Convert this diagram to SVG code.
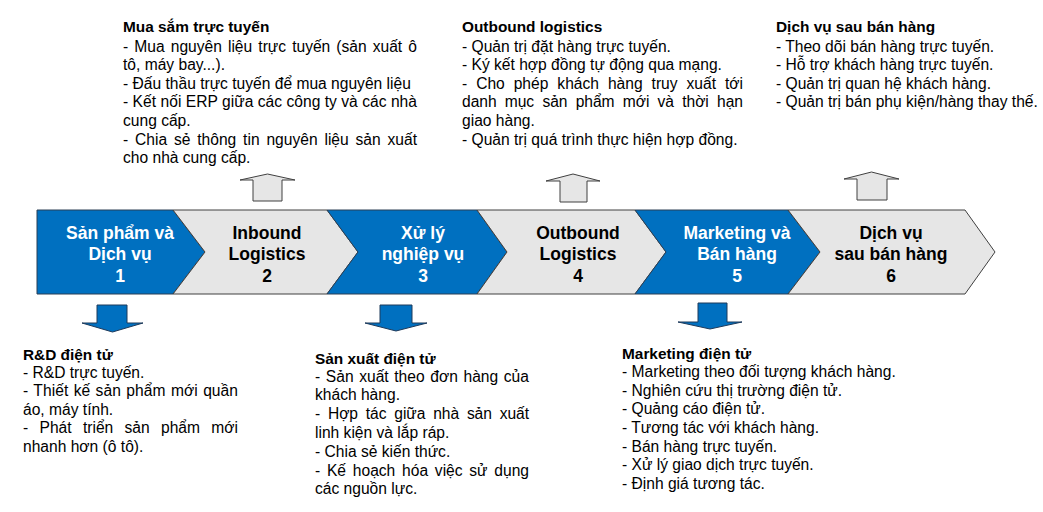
<svg xmlns="http://www.w3.org/2000/svg" width="1043" height="512" viewBox="0 0 1043 512">
  <style>
    text { font-family: "Liberation Sans", Arial, sans-serif; }
    .t { font-size: 15.6px; fill: #000; }
    .h { font-size: 15.4px; font-weight: bold; fill: #000; }
    .cl { font-size: 17.5px; font-weight: bold; text-anchor: middle; }
    .cw { fill: #ffffff; }
    .ck { fill: #000000; }
    .blue { fill: #0070C0; stroke: #2b3f55; stroke-width: 1; }
    .gray { fill: #E6E6E6; stroke: #404040; stroke-width: 1; }
    .up { fill: #E6E6E6; stroke: #404040; stroke-width: 1; }
    .down { fill: #0070C0; stroke: #1f3a5a; stroke-width: 1; }
  </style>

  <!-- value chain chevrons -->
  <g id="step1">
    <path class="blue" d="M37,210 L173,210 L205,252 L173,294 L37,294 Z"/>
    <text class="cl cw" x="120" y="238.5">Sản phẩm và</text>
    <text class="cl cw" x="120" y="260">Dịch vụ</text>
    <text class="cl cw" x="120" y="281.5">1</text>
  </g>
  <g id="step2">
    <path class="gray" d="M173,210 L327,210 L358,252 L327,294 L173,294 L205,252 Z"/>
    <text class="cl ck" x="267" y="238.5">Inbound</text>
    <text class="cl ck" x="267" y="260">Logistics</text>
    <text class="cl ck" x="267" y="281.5">2</text>
  </g>
  <g id="step3">
    <path class="blue" d="M327,210 L477,210 L507,252 L477,294 L327,294 L358,252 Z"/>
    <text class="cl cw" x="423" y="238.5">Xử lý</text>
    <text class="cl cw" x="423" y="260">nghiệp vụ</text>
    <text class="cl cw" x="423" y="281.5">3</text>
  </g>
  <g id="step4">
    <path class="gray" d="M477,210 L635,210 L666,252 L635,294 L477,294 L507,252 Z"/>
    <text class="cl ck" x="578" y="238.5">Outbound</text>
    <text class="cl ck" x="578" y="260">Logistics</text>
    <text class="cl ck" x="578" y="281.5">4</text>
  </g>
  <g id="step5">
    <path class="blue" d="M635,210 L788,210 L820,252 L788,294 L635,294 L666,252 Z"/>
    <text class="cl cw" x="737" y="238.5">Marketing và</text>
    <text class="cl cw" x="737" y="260">Bán hàng</text>
    <text class="cl cw" x="737" y="281.5">5</text>
  </g>
  <g id="step6">
    <path class="gray" d="M788,210 L965,210 L995,252 L965,294 L788,294 L820,252 Z"/>
    <text class="cl ck" x="891" y="238.5">Dịch vụ</text>
    <text class="cl ck" x="891" y="260">sau bán hàng</text>
    <text class="cl ck" x="891" y="281.5">6</text>
  </g>

  <!-- block arrows linking steps to their e-business activities -->
  <g id="connectors">
    <path class="up" d="M253,201 L253,180 L240,180 L267.5,174 L295,180 L282,180 L282,201 Z"/>
    <path class="up" d="M560,202 L560,181 L546,181 L573,174 L600,181 L587,181 L587,202 Z"/>
    <path class="up" d="M857,200 L857,179 L844,179 L871.5,172 L899,179 L887,179 L887,200 Z"/>
    <path class="down" d="M97,305 L127,305 L127,323 L143,323 L112.5,332 L82,323 L97,323 Z"/>
    <path class="down" d="M380,305 L412,305 L412,323 L427,323 L396,331 L365,323 L380,323 Z"/>
    <path class="down" d="M698,303 L727,303 L727,322 L742,322 L710,329 L678,322 L698,322 Z"/>
  </g>

  <!-- upper activity notes -->
  <g id="note-procurement">
    <text class="h" x="123" y="32">Mua sắm trực tuyến</text>
    <text class="t" x="123" y="51.5" word-spacing="1.8" textLength="294" lengthAdjust="spacing">- Mua nguyên liệu trực tuyến (sản xuất ô</text>
    <text class="t" x="123" y="70.1">tô, máy bay...).</text>
    <text class="t" x="123" y="88.7">- Đấu thầu trực tuyến để mua nguyên liệu</text>
    <text class="t" x="123" y="107.3" textLength="294" lengthAdjust="spacing">- Kết nối ERP giữa các công ty và các nhà</text>
    <text class="t" x="123" y="125.9">cung cấp.</text>
    <text class="t" x="123" y="144.5" word-spacing="2.5" textLength="294" lengthAdjust="spacing">- Chia sẻ thông tin nguyên liệu sản xuất</text>
    <text class="t" x="123" y="163.1">cho nhà cung cấp.</text>
  </g>

  <g id="note-outbound">
    <text class="h" x="462" y="32">Outbound logistics</text>
    <text class="t" x="462" y="51.5">- Quản trị đặt hàng trực tuyến.</text>
    <text class="t" x="462" y="70.1">- Ký kết hợp đồng tự động qua mạng.</text>
    <text class="t" x="462" y="88.7" word-spacing="4.6" textLength="281" lengthAdjust="spacing">- Cho phép khách hàng truy xuất tới</text>
    <text class="t" x="462" y="107.3" word-spacing="4" textLength="281" lengthAdjust="spacing">danh mục sản phẩm mới và thời hạn</text>
    <text class="t" x="462" y="125.9">giao hàng.</text>
    <text class="t" x="462" y="144.5">- Quản trị quá trình thực hiện hợp đồng.</text>
  </g>

  <g id="note-aftersales">
    <text class="h" x="776" y="32">Dịch vụ sau bán hàng</text>
    <text class="t" x="776" y="51.5">- Theo dõi bán hàng trực tuyến.</text>
    <text class="t" x="776" y="70.1">- Hỗ trợ khách hàng trực tuyến.</text>
    <text class="t" x="776" y="88.7">- Quản trị quan hệ khách hàng.</text>
    <text class="t" x="776" y="107.3">- Quản trị bán phụ kiện/hàng thay thế.</text>
  </g>

  <!-- lower activity notes -->
  <g id="note-rnd">
    <text class="h" x="23" y="360">R&amp;D điện tử</text>
    <text class="t" x="23" y="377.5">- R&amp;D trực tuyến.</text>
    <text class="t" x="23" y="396.1" word-spacing="1" textLength="215" lengthAdjust="spacing">- Thiết kế sản phẩm mới quần</text>
    <text class="t" x="23" y="414.7">áo, máy tính.</text>
    <text class="t" x="23" y="433.3" word-spacing="7" textLength="215" lengthAdjust="spacing">- Phát triển sản phẩm mới</text>
    <text class="t" x="23" y="451.9">nhanh hơn (ô tô).</text>
  </g>

  <g id="note-production">
    <text class="h" x="315" y="363.5">Sản xuất điện tử</text>
    <text class="t" x="315" y="381.5" word-spacing="1.2" textLength="214" lengthAdjust="spacing">- Sản xuất theo đơn hàng của</text>
    <text class="t" x="315" y="400.3">khách hàng.</text>
    <text class="t" x="315" y="419.1" word-spacing="3.6" textLength="214" lengthAdjust="spacing">- Hợp tác giữa nhà sản xuất</text>
    <text class="t" x="315" y="437.9">linh kiện và lắp ráp.</text>
    <text class="t" x="315" y="456.7">- Chia sẻ kiến thức.</text>
    <text class="t" x="315" y="475.5" word-spacing="2.5" textLength="214" lengthAdjust="spacing">- Kế hoạch hóa việc sử dụng</text>
    <text class="t" x="315" y="494.3">các nguồn lực.</text>
  </g>

  <g id="note-marketing">
    <text class="h" x="622" y="359">Marketing điện tử</text>
    <text class="t" x="622" y="377.2">- Marketing theo đối tượng khách hàng.</text>
    <text class="t" x="622" y="395.8">- Nghiên cứu thị trường điện tử.</text>
    <text class="t" x="622" y="414.4">- Quảng cáo điện tử.</text>
    <text class="t" x="622" y="433">- Tương tác với khách hàng.</text>
    <text class="t" x="622" y="451.6">- Bán hàng trực tuyến.</text>
    <text class="t" x="622" y="470.2">- Xử lý giao dịch trực tuyến.</text>
    <text class="t" x="622" y="488.8">- Định giá tương tác.</text>
  </g>
</svg>
